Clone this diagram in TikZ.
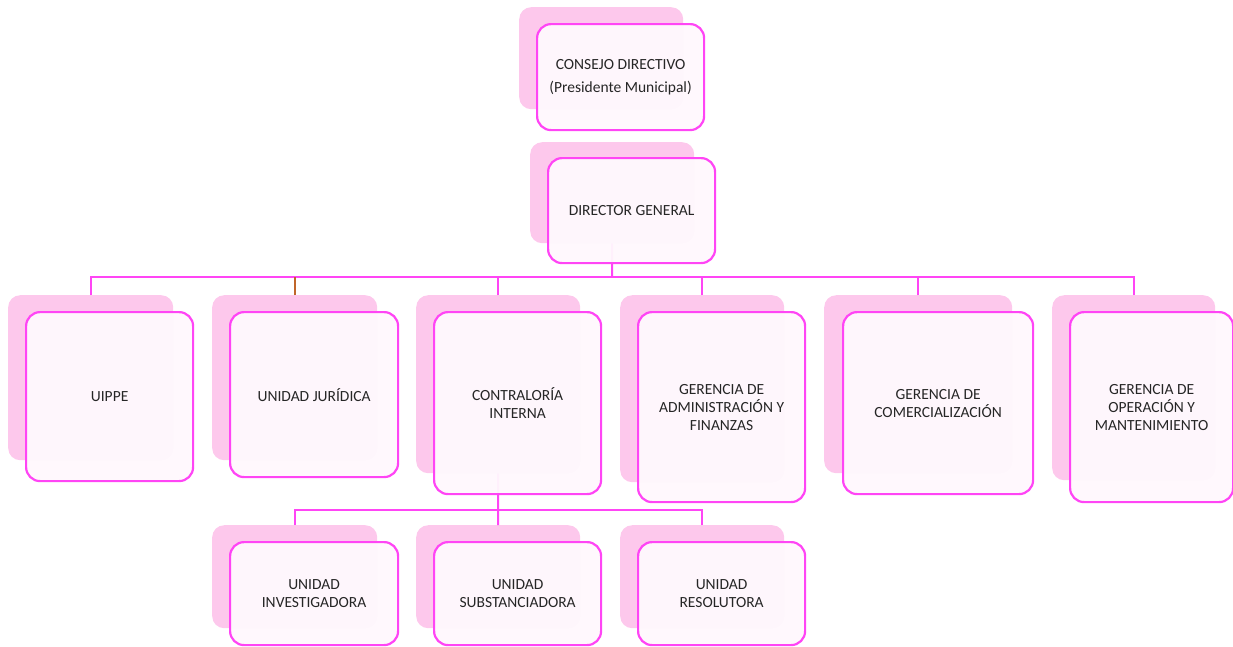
\documentclass[tikz,border=0pt]{standalone}
\usepackage{fontspec}
\setmainfont{Carlito}
\definecolor{mag}{HTML}{FF45F5}
\definecolor{backpink}{HTML}{FDC8EC}
\definecolor{frontpink}{HTML}{FFF8FD}
\definecolor{txt}{HTML}{262626}
\definecolor{brownline}{HTML}{C0662A}
\begin{document}
\begin{tikzpicture}[x=1pt,y=-1pt,
  backbox/.style={fill=backpink, draw=none, rounded corners=12pt, anchor=north west, inner sep=0pt},
  frontbox/.style={fill=frontpink, fill opacity=0.96, text opacity=1, draw=mag, line width=2.2pt, rounded corners=14pt, anchor=north west, inner sep=0pt, align=center, text=txt, font=\fontsize{15.5}{18}\selectfont},
  conn/.style={draw=mag, line width=2pt}
]
\useasboundingbox (0,0) rectangle (1233,646);
% back boxes
\node[backbox, minimum width=164pt, minimum height=102pt] (consb) at (519,7) {};
\node[backbox, minimum width=164pt, minimum height=101pt] (dirb) at (530,142) {};
\node[backbox, minimum width=165pt, minimum height=165pt] (uippeb) at (8,295) {};
\node[backbox, minimum width=165pt, minimum height=165pt] (jurb) at (212,295) {};
\node[backbox, minimum width=164pt, minimum height=178pt] (contb) at (416,295) {};
\node[backbox, minimum width=164pt, minimum height=187pt] (admb) at (620,295) {};
\node[backbox, minimum width=188pt, minimum height=178pt] (comb) at (824,295) {};
\node[backbox, minimum width=163pt, minimum height=185pt] (opb) at (1052,295) {};
\node[backbox, minimum width=165pt, minimum height=103pt] (invb) at (212,525) {};
\node[backbox, minimum width=164pt, minimum height=103pt] (subb) at (416,525) {};
\node[backbox, minimum width=164pt, minimum height=103pt] (resb) at (620,525) {};
% connectors
\coordinate (bus) at (612,277);
\coordinate (bus2) at (498,510);
\draw[conn] (dirb.south) -- (bus);
\draw[conn] (uippeb.north) |- (bus);
\draw[conn] (opb.north) |- (bus);
\draw[draw=brownline, line width=2pt] (jurb.north) -- (jurb.north |- bus);
\draw[conn] (contb.north) -- (contb.north |- bus);
\draw[conn] (admb.north) -- (admb.north |- bus);
\draw[conn] (comb.north) -- (comb.north |- bus);
\draw[conn] (contb.south) -- (bus2);
\draw[conn] (invb.north) |- (bus2);
\draw[conn] (resb.north) |- (bus2);
\draw[conn] (subb.north) -- (bus2);
% front boxes
\node[frontbox, minimum width=167pt, minimum height=106pt] (cons) at (536,23) {CONSEJO DIRECTIVO\\[5pt](Presidente Municipal)};
\node[frontbox, minimum width=167pt, minimum height=105pt] (dir) at (547,157) {DIRECTOR GENERAL};
\node[frontbox, minimum width=167pt, minimum height=169pt] (uippe) at (25,311) {UIPPE};
\node[frontbox, minimum width=168pt, minimum height=165pt] (jur) at (229,311) {UNIDAD JURÍDICA};
\node[frontbox, minimum width=167pt, minimum height=182pt] (cont) at (433,311) {CONTRALORÍA\\INTERNA};
\node[frontbox, minimum width=167pt, minimum height=190pt] (adm) at (637,311) {GERENCIA DE\\ADMINISTRACIÓN Y\\FINANZAS};
\node[frontbox, minimum width=190pt, minimum height=182pt] (com) at (842,311) {GERENCIA DE\\COMERCIALIZACIÓN};
\node[frontbox, minimum width=163pt, minimum height=190pt] (op) at (1069,311) {GERENCIA DE\\OPERACIÓN Y\\MANTENIMIENTO};
\node[frontbox, minimum width=168pt, minimum height=103pt] (inv) at (229,541) {UNIDAD\\INVESTIGADORA};
\node[frontbox, minimum width=167pt, minimum height=103pt] (sub) at (433,541) {UNIDAD\\SUBSTANCIADORA};
\node[frontbox, minimum width=167pt, minimum height=103pt] (res) at (637,541) {UNIDAD\\RESOLUTORA};
\end{tikzpicture}
\end{document}
